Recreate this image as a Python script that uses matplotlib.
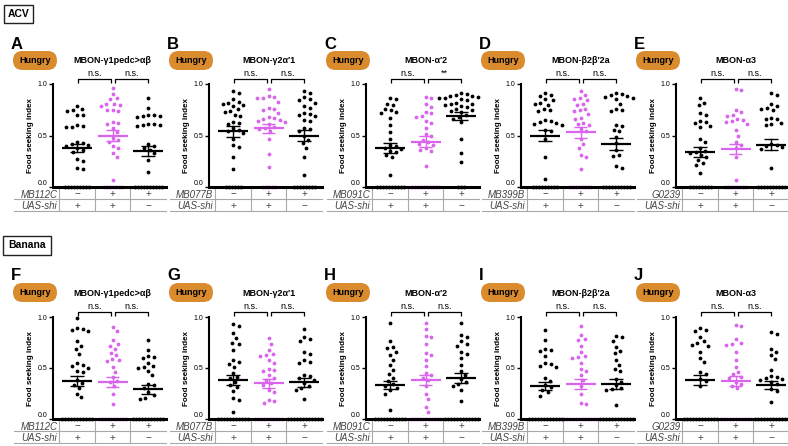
import numpy as np
import matplotlib
matplotlib.use('Agg')
import matplotlib.pyplot as plt
from matplotlib.patches import FancyBboxPatch, Rectangle
from matplotlib.transforms import IdentityTransform

plt.rcParams['font.family'] = ['Liberation Sans', 'DejaVu Sans']

# ---------------- text / categories ----------------
sections = ['ACV', 'Banana']
letters_acv = ['A', 'B', 'C', 'D', 'E']
letters_banana = ['F', 'G', 'H', 'I', 'J']
titles = ['MBON-γ1pedc>αβ', 'MBON-γ2α′1', 'MBON-α′2', 'MBON-β2β′2a', 'MBON-α3']
drivers = ['MB112C', 'MB077B', 'MB091C', 'MB399B', 'G0239']
effector = 'UAS-shi'
driver_signs = ['−', '+', '+']
effector_signs = ['+', '+', '−']
state = 'Hungry'
ylabel = 'Food seeking index'
yticks = [0.0, 0.5, 1.0]
ytick_labels = ['0.0', '0.5', '1.0']
sig_acv = [['n.s.', 'n.s.'], ['n.s.', 'n.s.'], ['n.s.', '**'], ['n.s.', 'n.s.'], ['n.s.', 'n.s.']]
sig_banana = [['n.s.', 'n.s.'], ['n.s.', 'n.s.'], ['n.s.', 'n.s.'], ['n.s.', 'n.s.'], ['n.s.', 'n.s.']]

# ---------------- data (ACV) ----------------
acv_A = [
    [0.79, 0.76, 0.75, 0.74, 0.70, 0.70, 0.60, 0.59, 0.58, 0.58, 0.44, 0.43, 0.42, 0.41, 0.40, 0.38, 0.36, 0.34, 0.27, 0.25, 0.18, 0.17, 0, 0, 0, 0, 0, 0, 0, 0, 0],
    [0.96, 0.90, 0.86, 0.85, 0.81, 0.81, 0.80, 0.79, 0.75, 0.75, 0.74, 0.63, 0.62, 0.61, 0.57, 0.53, 0.48, 0.46, 0.44, 0.40, 0.38, 0.33, 0.29, 0.07, 0, 0, 0, 0, 0, 0, 0],
    [0.86, 0.77, 0.70, 0.70, 0.69, 0.69, 0.68, 0.61, 0.61, 0.60, 0.60, 0.59, 0.42, 0.40, 0.38, 0.36, 0.33, 0.26, 0.15, 0, 0, 0, 0, 0, 0, 0, 0, 0, 0],
]
acv_B = [
    [0.93, 0.91, 0.85, 0.83, 0.82, 0.81, 0.80, 0.79, 0.76, 0.74, 0.73, 0.70, 0.69, 0.63, 0.62, 0.61, 0.57, 0.55, 0.54, 0.52, 0.47, 0.41, 0.39, 0.29, 0.17, 0, 0, 0, 0, 0, 0],
    [0.95, 0.88, 0.87, 0.86, 0.86, 0.83, 0.77, 0.76, 0.75, 0.72, 0.68, 0.67, 0.66, 0.65, 0.64, 0.63, 0.61, 0.58, 0.57, 0.56, 0.54, 0.47, 0.32, 0.19, 0, 0, 0, 0, 0],
    [0.93, 0.91, 0.87, 0.85, 0.84, 0.82, 0.79, 0.77, 0.72, 0.71, 0.70, 0.69, 0.65, 0.64, 0.57, 0.56, 0.54, 0.50, 0.46, 0.43, 0.38, 0.29, 0.12, 0, 0, 0, 0, 0, 0, 0, 0],
]
acv_C = [
    [0.86, 0.85, 0.81, 0.80, 0.76, 0.75, 0.73, 0.72, 0.67, 0.60, 0.53, 0.47, 0.41, 0.40, 0.38, 0.37, 0.35, 0.34, 0.31, 0.29, 0.12, 0, 0, 0, 0, 0, 0, 0, 0, 0, 0],
    [0.87, 0.86, 0.81, 0.78, 0.73, 0.72, 0.69, 0.68, 0.64, 0.62, 0.57, 0.51, 0.50, 0.46, 0.44, 0.42, 0.41, 0.38, 0.36, 0.35, 0.20, 0, 0, 0, 0, 0, 0, 0, 0, 0, 0],
    [0.91, 0.90, 0.89, 0.88, 0.88, 0.87, 0.86, 0.86, 0.85, 0.84, 0.82, 0.81, 0.81, 0.80, 0.79, 0.78, 0.76, 0.75, 0.74, 0.73, 0.70, 0.68, 0.66, 0.63, 0.47, 0.33, 0.24, 0, 0, 0],
]
acv_D = [
    [0.91, 0.89, 0.88, 0.85, 0.84, 0.82, 0.81, 0.80, 0.76, 0.75, 0.74, 0.65, 0.64, 0.63, 0.62, 0.61, 0.60, 0.55, 0.54, 0.47, 0.29, 0.08, 0, 0, 0, 0, 0, 0, 0, 0, 0],
    [0.93, 0.89, 0.86, 0.85, 0.84, 0.81, 0.80, 0.76, 0.75, 0.74, 0.71, 0.67, 0.66, 0.62, 0.61, 0.60, 0.56, 0.54, 0.47, 0.42, 0.38, 0.31, 0.29, 0.17, 0, 0, 0, 0, 0, 0, 0, 0],
    [0.91, 0.90, 0.89, 0.88, 0.87, 0.86, 0.85, 0.81, 0.76, 0.75, 0.74, 0.60, 0.59, 0.55, 0.54, 0.49, 0.43, 0.36, 0.31, 0.30, 0.20, 0.18, 0, 0, 0, 0, 0, 0, 0, 0, 0, 0],
]
acv_E = [
    [0.86, 0.82, 0.80, 0.72, 0.70, 0.64, 0.63, 0.62, 0.59, 0.58, 0.47, 0.44, 0.38, 0.35, 0.34, 0.33, 0.31, 0.29, 0.26, 0.23, 0.21, 0.14, 0, 0, 0, 0, 0, 0, 0, 0],
    [0.95, 0.94, 0.75, 0.73, 0.70, 0.69, 0.66, 0.65, 0.64, 0.63, 0.61, 0.55, 0.50, 0.44, 0.41, 0.38, 0.29, 0.07, 0, 0, 0, 0, 0, 0, 0, 0],
    [0.91, 0.89, 0.81, 0.79, 0.77, 0.76, 0.75, 0.67, 0.66, 0.66, 0.62, 0.61, 0.60, 0.42, 0.41, 0.40, 0.39, 0.37, 0.18, 0, 0, 0, 0, 0, 0, 0, 0, 0, 0],
]
acv_means = [[0.38, 0.50, 0.35], [0.54, 0.57, 0.50], [0.38, 0.44, 0.69], [0.50, 0.53, 0.42], [0.34, 0.37, 0.41]]
acv_sems = [[0.04, 0.055, 0.05], [0.05, 0.045, 0.055], [0.05, 0.055, 0.04], [0.05, 0.055, 0.06], [0.045, 0.05, 0.055]]

# ---------------- data (Banana) ----------------
ban_F = [
    [0.99, 0.89, 0.88, 0.87, 0.86, 0.76, 0.72, 0.69, 0.64, 0.55, 0.53, 0.52, 0.50, 0.47, 0.46, 0.38, 0.35, 0.33, 0.30, 0.25, 0.22, 0, 0, 0, 0, 0, 0, 0, 0, 0, 0, 0],
    [0.90, 0.86, 0.77, 0.74, 0.72, 0.69, 0.65, 0.63, 0.59, 0.58, 0.57, 0.51, 0.46, 0.41, 0.37, 0.36, 0.32, 0.25, 0.15, 0, 0, 0, 0, 0, 0, 0, 0, 0, 0],
    [0.77, 0.68, 0.62, 0.61, 0.60, 0.55, 0.52, 0.51, 0.50, 0.47, 0.43, 0.34, 0.33, 0.30, 0.26, 0.24, 0.21, 0.20, 0, 0, 0, 0, 0, 0, 0, 0, 0, 0, 0],
]
ban_G = [
    [0.93, 0.91, 0.84, 0.79, 0.75, 0.74, 0.68, 0.58, 0.56, 0.54, 0.51, 0.45, 0.41, 0.40, 0.36, 0.33, 0.31, 0.27, 0.21, 0.19, 0.07, 0, 0, 0, 0, 0, 0, 0, 0, 0, 0, 0],
    [0.79, 0.74, 0.68, 0.64, 0.63, 0.62, 0.58, 0.55, 0.49, 0.48, 0.47, 0.43, 0.40, 0.38, 0.35, 0.33, 0.28, 0.26, 0.19, 0.18, 0.16, 0, 0, 0, 0, 0, 0, 0, 0, 0, 0],
    [0.88, 0.80, 0.78, 0.76, 0.66, 0.64, 0.58, 0.56, 0.55, 0.43, 0.42, 0.40, 0.38, 0.35, 0.32, 0.30, 0.28, 0.20, 0, 0, 0, 0, 0, 0, 0, 0, 0, 0, 0, 0],
]
ban_H = [
    [0.94, 0.76, 0.71, 0.70, 0.66, 0.63, 0.58, 0.53, 0.48, 0.44, 0.40, 0.37, 0.34, 0.32, 0.30, 0.28, 0.25, 0.09, 0, 0, 0, 0, 0, 0, 0, 0, 0, 0, 0],
    [0.94, 0.88, 0.81, 0.80, 0.74, 0.65, 0.63, 0.58, 0.52, 0.45, 0.43, 0.40, 0.38, 0.32, 0.25, 0.20, 0.12, 0.07, 0, 0, 0, 0, 0, 0, 0, 0, 0, 0, 0],
    [0.94, 0.82, 0.80, 0.76, 0.74, 0.72, 0.66, 0.64, 0.60, 0.53, 0.47, 0.43, 0.39, 0.36, 0.34, 0.32, 0.28, 0.18, 0, 0, 0, 0, 0, 0, 0, 0, 0, 0, 0, 0],
]
ban_I = [
    [0.87, 0.77, 0.69, 0.68, 0.67, 0.62, 0.55, 0.54, 0.52, 0.51, 0.40, 0.37, 0.33, 0.31, 0.28, 0.26, 0.23, 0, 0, 0, 0, 0, 0, 0, 0, 0, 0, 0, 0],
    [0.91, 0.82, 0.78, 0.77, 0.72, 0.66, 0.62, 0.61, 0.60, 0.55, 0.49, 0.47, 0.43, 0.38, 0.32, 0.25, 0.16, 0.15, 0, 0, 0, 0, 0, 0, 0, 0, 0, 0, 0, 0],
    [0.81, 0.80, 0.76, 0.71, 0.67, 0.65, 0.58, 0.53, 0.49, 0.47, 0.39, 0.36, 0.33, 0.30, 0.29, 0.28, 0.14, 0, 0, 0, 0, 0, 0, 0, 0, 0, 0, 0, 0],
]
ban_J = [
    [0.89, 0.87, 0.86, 0.80, 0.76, 0.75, 0.73, 0.72, 0.66, 0.60, 0.56, 0.46, 0.44, 0.39, 0.37, 0.32, 0, 0, 0, 0, 0, 0, 0, 0, 0, 0, 0, 0],
    [0.92, 0.91, 0.78, 0.75, 0.74, 0.73, 0.66, 0.58, 0.51, 0.46, 0.44, 0.41, 0.40, 0.36, 0.34, 0.32, 0.30, 0, 0, 0, 0, 0, 0, 0, 0, 0, 0, 0],
    [0.85, 0.83, 0.69, 0.66, 0.63, 0.59, 0.48, 0.42, 0.41, 0.40, 0.39, 0.38, 0.36, 0.34, 0.29, 0.27, 0.17, 0, 0, 0, 0, 0, 0, 0, 0, 0, 0, 0, 0],
]
ban_means = [[0.37, 0.36, 0.29], [0.38, 0.35, 0.36], [0.33, 0.38, 0.40], [0.32, 0.34, 0.34], [0.38, 0.37, 0.33]]
ban_sems = [[0.05, 0.05, 0.04], [0.05, 0.045, 0.045], [0.04, 0.05, 0.05], [0.04, 0.05, 0.05], [0.05, 0.05, 0.04]]

acv_data = [acv_A, acv_B, acv_C, acv_D, acv_E]
ban_data = [ban_F, ban_G, ban_H, ban_I, ban_J]

# ---------------- styles ----------------
BLACK = '#000000'
MAGENTA = '#D965EC'
ORANGE = '#DA8B2E'
group_colors = [BLACK, MAGENTA, BLACK]
TABLE_LINE = '#A8A8A8'
TABLE_TEXT = '#444444'

W, H = 788, 446
fig = plt.figure(figsize=(W / 100, H / 100), dpi=100)

axis_x = [53, 209, 366, 521, 676]
AX_W = 113
XLIM = (-0.68, 2.5)
rows_geom = [dict(top=84, bottom=187), dict(top=317, bottom=419)]

D_ZERO = 3.0   # px spacing of the zero row
D_SWARM = 5.8  # px min distance for the rest


def swarm(vals, sx, sy):
    vals = np.asarray(vals, float)
    xs = np.zeros(len(vals))
    zero_idx = np.where(vals == 0)[0]
    nz = len(zero_idx)
    for k, i in enumerate(zero_idx):
        xs[i] = (k - (nz - 1) / 2) * D_ZERO
    d = D_SWARM
    ys = vals * sy
    idx = np.where(vals != 0)[0]
    order = idx[np.argsort(-ys[idx], kind='stable')]
    placed = []
    for i in order:
        y = ys[i]
        cands = [0.0]
        for (px, py) in placed:
            dy = abs(py - y)
            if dy < d:
                dx = np.sqrt(d * d - dy * dy)
                cands += [px + dx, px - dx]
        cands = sorted(cands, key=abs)
        chosen = cands[-1]
        for c in cands:
            if all((c - px) ** 2 + (y - py) ** 2 >= d * d - 1e-6 for px, py in placed):
                chosen = c
                break
        placed.append((chosen, y))
        xs[i] = chosen
    return xs / sx


def px2fx(x):
    return x / W


def px2fy(y):
    return 1 - y / H


for r, (datasets, means, sems, sigs, letters) in enumerate([
        (acv_data, acv_means, acv_sems, sig_acv, letters_acv),
        (ban_data, ban_means, ban_sems, sig_banana, letters_banana)]):
    g = rows_geom[r]
    ax_h = g['bottom'] - g['top']
    sy = ax_h
    sx = AX_W / (XLIM[1] - XLIM[0])
    row_h = 12.0 / ax_h
    for p in range(5):
        ax = fig.add_axes([px2fx(axis_x[p]), px2fy(g['bottom']), AX_W / W, ax_h / H])
        ax.set_xlim(*XLIM)
        ax.set_ylim(0, 1)
        for s in ['top', 'right']:
            ax.spines[s].set_visible(False)
        ax.spines['left'].set_linewidth(1.5)
        ax.spines['bottom'].set_linewidth(2.2)
        ax.spines['left'].set_zorder(5)
        ax.spines['bottom'].set_zorder(5)
        ax.set_xticks([])
        ax.set_yticks(yticks)
        ax.set_yticklabels(ytick_labels, fontsize=5)
        ax.get_yticklabels()[0].set_verticalalignment('bottom')
        ax.tick_params(axis='y', length=3, width=1, pad=1)
        ax.set_ylabel(ylabel, fontsize=5.8, fontweight='bold', labelpad=3)
        ax.patch.set_alpha(0)

        for gi in range(3):
            vals = datasets[p][gi]
            xo = swarm(vals, sx, sy)
            ax.scatter(gi + xo, vals, s=7.5, color=group_colors[gi], linewidths=0,
                       clip_on=False, zorder=3)
            m = means[p][gi]
            e = sems[p][gi]
            ax.plot([gi - 0.42, gi + 0.42], [m, m], color=group_colors[gi], lw=1.6,
                    solid_capstyle='butt', zorder=4, clip_on=False)
            ax.plot([gi, gi], [m - e, m + e], color=group_colors[gi], lw=1.0, zorder=4, clip_on=False)
            for yy in (m - e, m + e):
                ax.plot([gi - 0.19, gi + 0.19], [yy, yy], color=group_colors[gi], lw=1.0,
                        solid_capstyle='butt', zorder=4, clip_on=False)

        # significance brackets
        yb = 1.048
        for k, (x0, x1) in enumerate([(0.02, 0.96), (1.06, 2.0)]):
            ax.plot([x0, x0, x1, x1], [1.01, yb, yb, 1.01], color=BLACK, lw=0.9,
                    clip_on=False, solid_capstyle='butt')
            ax.text((x0 + x1) / 2, yb + 0.012, sigs[p][k], ha='center', va='bottom',
                    fontsize=6.5, clip_on=False)

        # title
        ax.text(1.0, 1.225 if r == 0 else 1.235, titles[p], ha='center', va='center',
                fontsize=6.5, fontweight='bold', clip_on=False)

        # genotype table
        xl = -1.78
        for yy in (-row_h, -2 * row_h):
            ax.plot([xl, XLIM[1]], [yy, yy], color=TABLE_LINE, lw=0.8, clip_on=False)
        for xv in (-0.5, 0.5, 1.5):
            ax.plot([xv, xv], [0, -2 * row_h], color=TABLE_LINE, lw=0.8, clip_on=False)
        ax.text(-0.56, -0.68 * row_h, drivers[p], ha='right', va='center', fontsize=7,
                style='italic', color=TABLE_TEXT, clip_on=False)
        ax.text(-0.56, -1.55 * row_h, effector, ha='right', va='center', fontsize=7,
                style='italic', color=TABLE_TEXT, clip_on=False)
        for gi in range(3):
            ax.text(gi, -0.62 * row_h, driver_signs[gi], ha='center', va='center',
                    fontsize=7.2, color=TABLE_TEXT, clip_on=False)
            ax.text(gi, -1.55 * row_h, effector_signs[gi], ha='center', va='center',
                    fontsize=7.2, color=TABLE_TEXT, clip_on=False)

        # "Hungry" pill (in pixel space)
        pc_y = 60.5 if r == 0 else 292.5
        pw, ph = 44, 19
        x0 = axis_x[p] - 40
        pill = FancyBboxPatch((x0, H - pc_y - ph / 2), pw, ph,
                              boxstyle='round,pad=0,rounding_size=9.5',
                              fc=ORANGE, ec='none', transform=IdentityTransform())
        fig.add_artist(pill)
        fig.text(px2fx(x0 + pw / 2), px2fy(pc_y), state, ha='center', va='center',
                 fontsize=6.5, fontweight='bold', color=BLACK)

        # panel letter
        ly = 37 if r == 0 else 268
        fig.text(px2fx(axis_x[p] - 42), px2fy(ly), letters[p], ha='left', va='top',
                 fontsize=12, fontweight='bold')

# section boxes
for (name, bx, by, bw, bh) in [(sections[0], 4, 5, 29, 18), (sections[1], 3, 236, 48, 19)]:
    rect = Rectangle((bx, H - by - bh), bw, bh, fc='white', ec='#222222', lw=1.0,
                     transform=IdentityTransform())
    fig.add_artist(rect)
    fig.text(px2fx(bx + bw / 2), px2fy(by + bh / 2), name, ha='center', va='center',
             fontsize=7.5, fontweight='bold')

fig.savefig('out.png', dpi=100)
